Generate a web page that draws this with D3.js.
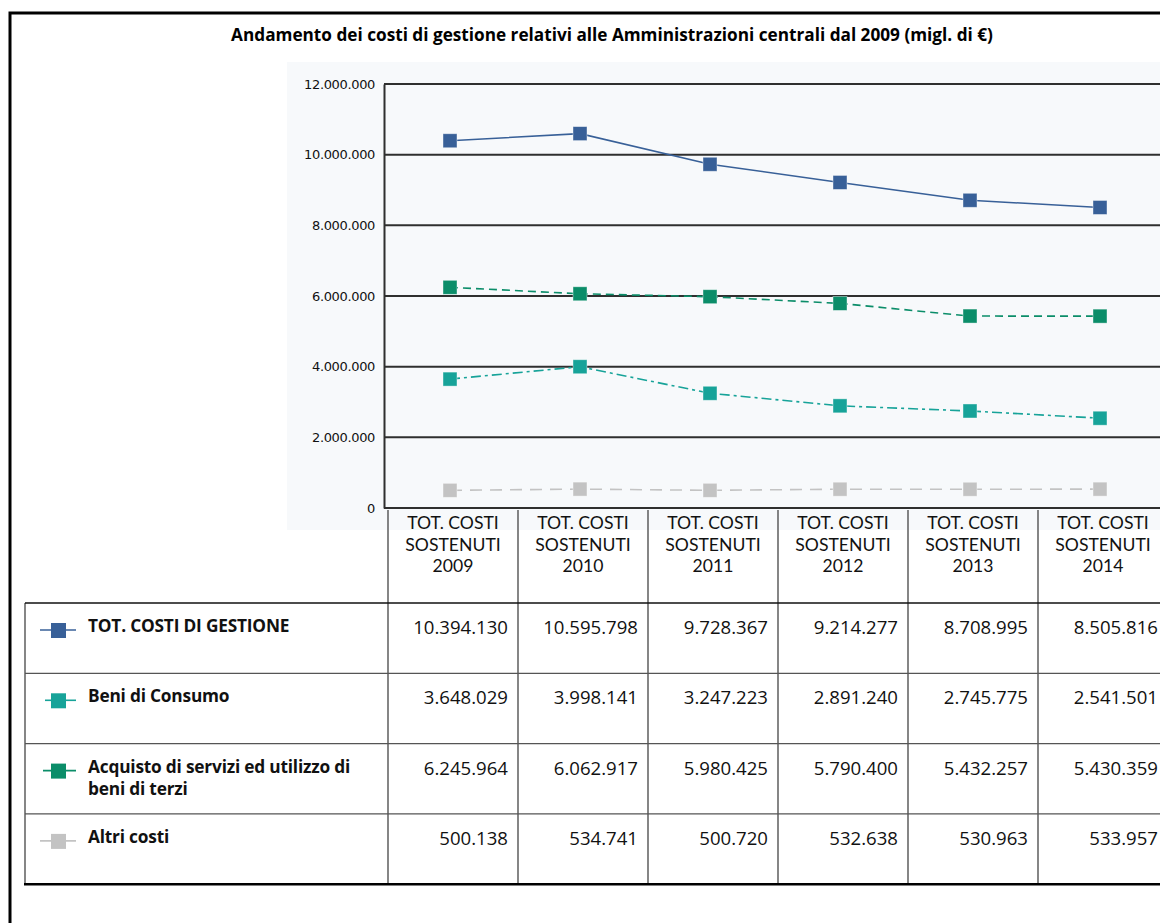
<!DOCTYPE html>
<html>
<head>
<meta charset="utf-8">
<script src="https://cdn.jsdelivr.net/npm/d3@7"></script>
<style>
  body { margin: 0; background: #fff; }
  svg { display: block; }
  .tbl { font-family: "Open Sans", sans-serif; fill: #111; }
</style>
</head>
<body>
<svg id="chart"></svg>
<script>
// years in the table header
const years = ["2009", "2010", "2011", "2012", "2013", "2014"];
const yTicks = [0, 2000000, 4000000, 6000000, 8000000, 10000000, 12000000];

// series values (migl. di €)
const totCosti = [10394130, 10595798, 9728367, 9214277, 8708995, 8505816];
const beniConsumo = [3648029, 3998141, 3247223, 2891240, 2745775, 2541501];
const acquistoServizi = [6245964, 6062917, 5980425, 5790400, 5432257, 5430359];
const altriCosti = [500138, 534741, 500720, 532638, 530963, 533957];

const seriesNames = ["TOT. COSTI DI GESTIONE", "Beni di Consumo", "Acquisto di servizi ed utilizzo di beni di terzi", "Altri costi"];

const series = [
  {name: seriesNames[0], lines: ["TOT. COSTI DI GESTIONE"], values: totCosti, color: "#386098", dash: null, keyX: 40},
  {name: seriesNames[1], lines: ["Beni di Consumo"], values: beniConsumo, color: "#17a399", dash: "10,4,3,4", keyX: 45},
  {name: seriesNames[2], lines: ["Acquisto di servizi ed utilizzo di", "beni di terzi"], values: acquistoServizi, color: "#0b8d69", dash: "8,5", keyX: 43},
  {name: seriesNames[3], lines: ["Altri costi"], values: altriCosti, color: "#c3c3c3", dash: "12,8", keyX: 40}
];

const W = 1160, H = 923;
const svg = d3.select("#chart").attr("width", W).attr("height", H);

const it = d3.formatLocale({decimal: ",", thousands: ".", grouping: [3], currency: ["€", ""]});
const fmt = it.format(",d");

// outer frame
svg.append("rect")
  .attr("x", 10).attr("y", 13)
  .attr("width", W).attr("height", H)
  .attr("fill", "none").attr("stroke", "#000").attr("stroke-width", 3);

// title
svg.append("text")
  .attr("x", 612).attr("y", 41)
  .attr("text-anchor", "middle")
  .style("font-family", "'Open Sans', sans-serif")
  .style("font-weight", 700)
  .style("font-size", "17.2px")
  .text("Andamento dei costi di gestione relativi alle Amministrazioni centrali dal 2009 (migl. di €)");

// chart background
svg.append("rect")
  .attr("x", 287).attr("y", 62)
  .attr("width", W - 287).attr("height", 468)
  .attr("fill", "#f7f9fb");

const plotLeft = 384, plotTop = 84, plotBottom = 508;

const x = d3.scaleBand().domain(years).range([385, 1165]);
const y = d3.scaleLinear().domain([0, 12000000]).range([plotBottom, plotTop]);

// gridlines
svg.append("g")
  .selectAll("line")
  .data(yTicks)
  .join("line")
  .attr("x1", plotLeft).attr("x2", W)
  .attr("y1", d => y(d)).attr("y2", d => y(d))
  .attr("stroke", "#2f2f2f").attr("stroke-width", 2);

// y axis
const yAxis = d3.axisLeft(y).tickValues(yTicks).tickSize(0).tickPadding(9).tickFormat(d => fmt(d));
const yAxisG = svg.append("g")
  .attr("transform", `translate(${plotLeft},0)`)
  .call(yAxis);
yAxisG.select(".domain").attr("stroke", "#2f2f2f").attr("stroke-width", 2);
yAxisG.selectAll("text")
  .style("font-family", "'DejaVu Sans', sans-serif")
  .style("font-size", "13px")
  .style("letter-spacing", "-0.35px")
  .attr("fill", "#111");

// lines + markers
const line = d3.line()
  .x((d, i) => x(years[i]) + x.bandwidth() / 2)
  .y(d => y(d));

series.slice().reverse().forEach(s => {
  svg.append("path")
    .datum(s.values)
    .attr("d", line)
    .attr("fill", "none")
    .attr("stroke", s.color)
    .attr("stroke-width", 1.6)
    .attr("stroke-dasharray", s.dash);
  svg.append("g")
    .selectAll("rect")
    .data(s.values)
    .join("rect")
    .attr("x", (d, i) => x(years[i]) + x.bandwidth() / 2 - 7)
    .attr("y", d => y(d) - 7)
    .attr("width", 14).attr("height", 14)
    .attr("fill", s.color)
    .attr("stroke", "#fff").attr("stroke-opacity", 0.5).attr("stroke-width", 0.8);
});

// data table
const col = d3.scaleBand().domain(years).range([388, 1168]);
const rowTop = 603, rowH = 70.3;
const row = d3.scaleBand().domain(seriesNames).range([rowTop, rowTop + rowH * 4]);
const tableBottom = rowTop + rowH * 4;

const tbl = svg.append("g").attr("class", "tbl");

// column separators
tbl.selectAll(".vline")
  .data(years)
  .join("line")
  .attr("class", "vline")
  .attr("x1", d => col(d)).attr("x2", d => col(d))
  .attr("y1", 510).attr("y2", tableBottom)
  .attr("stroke", "#444").attr("stroke-width", 1.3);

// left border
tbl.append("line")
  .attr("x1", 25).attr("x2", 25)
  .attr("y1", rowTop).attr("y2", tableBottom)
  .attr("stroke", "#444").attr("stroke-width", 1.3);

// row separators
tbl.selectAll(".hline")
  .data(seriesNames)
  .join("line")
  .attr("class", "hline")
  .attr("x1", 25).attr("x2", W)
  .attr("y1", d => row(d)).attr("y2", d => row(d))
  .attr("stroke", d => d === seriesNames[0] ? "#111" : "#555")
  .attr("stroke-width", 1.3);

tbl.append("line")
  .attr("x1", 24).attr("x2", W)
  .attr("y1", tableBottom).attr("y2", tableBottom)
  .attr("stroke", "#000").attr("stroke-width", 2.5);

// header (three lines per column)
const headLines = d => ["TOT. COSTI", "SOSTENUTI", d];
years.forEach(d => {
  tbl.selectAll(null)
    .data(headLines(d))
    .join("text")
    .attr("class", "head")
    .attr("x", col(d) + col.bandwidth() / 2)
    .attr("y", (s, i) => 529 + i * 21.6)
    .attr("text-anchor", "middle")
    .style("font-family", "Lato, sans-serif")
    .style("font-size", "17.6px")
    .text(s => s);
});

// rows
series.forEach(s => {
  const top = row(s.name);
  const g = tbl.append("g");
  // legend key
  g.append("line")
    .attr("x1", s.keyX).attr("x2", 76)
    .attr("y1", top + 27).attr("y2", top + 27)
    .attr("stroke", s.color).attr("stroke-width", 1.6);
  g.append("rect")
    .attr("x", 51).attr("y", top + 20)
    .attr("width", 15).attr("height", 15)
    .attr("fill", s.color);
  s.lines.forEach((l, i) => {
    g.append("text")
      .attr("x", 88).attr("y", top + 29 + i * 22.5)
      .style("font-size", "17.3px")
      .style("font-weight", 700)
      .style("letter-spacing", "-0.2px")
      .text(l);
  });
  g.selectAll(".val")
    .data(s.values)
    .join("text")
    .attr("class", "val")
    .attr("x", (d, i) => col(years[i]) + col.bandwidth() - 10)
    .attr("y", top + 31)
    .attr("text-anchor", "end")
    .style("font-size", "18.6px")
    .text(d => fmt(d));
});
</script>
</body>
</html>
